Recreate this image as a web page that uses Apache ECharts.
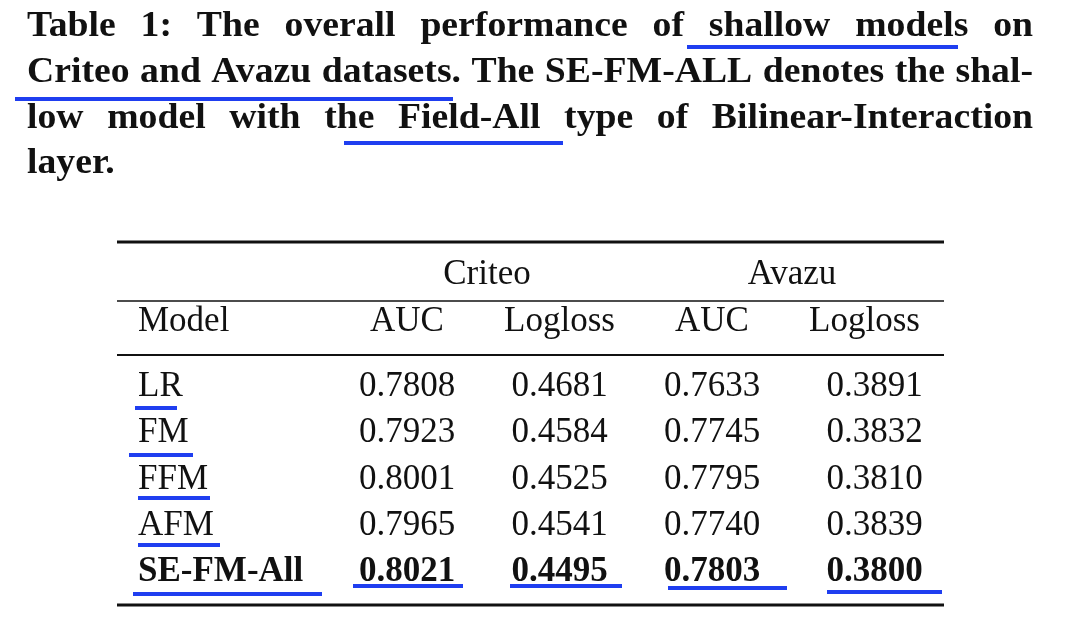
<!DOCTYPE html>
<html>
<head>
<meta charset="utf-8">
<style>
  html, body { margin: 0; padding: 0; background: #fff; }
  #main { width: 1080px; height: 626px; }
</style>
<script src="https://cdn.jsdelivr.net/npm/echarts@6/dist/echarts.min.js"></script>
</head>
<body>
<div id="main"></div>
<script>
  // table data
  const captionLines = [
    'Table 1: The overall performance of shallow models on',
    'Criteo and Avazu datasets. The SE-FM-ALL denotes the shal-',
    'low model with the Field-All type of Bilinear-Interaction',
    'layer.'
  ]
  const datasets = ['Criteo', 'Avazu']
  const metrics = ['AUC', 'Logloss']
  const models = ['LR', 'FM', 'FFM', 'AFM', 'SE-FM-All']
  const criteoAUC = [0.7808, 0.7923, 0.8001, 0.7965, 0.8021]
  const criteoLogloss = [0.4681, 0.4584, 0.4525, 0.4541, 0.4495]
  const avazuAUC = [0.7633, 0.7745, 0.7795, 0.7740, 0.7803]
  const avazuLogloss = [0.3891, 0.3832, 0.3810, 0.3839, 0.3800]

  const SERIF = '"Liberation Serif", "DejaVu Serif", serif'
  const BLUE = '#1f3ef0'
  const INK = '#111'
  const TFS = 35

  const columns = [criteoAUC, criteoLogloss, avazuAUC, avazuLogloss]
  const colNames = []
  datasets.forEach(d => metrics.forEach(m => colNames.push(d + ' ' + m)))

  // best value per column: max for AUC, min for Logloss
  const bestIdx = columns.map((vals, c) => {
    const isAUC = colNames[c].indexOf('AUC') >= 0
    let b = 0
    vals.forEach((v, i) => { if (isAUC ? v > vals[b] : v < vals[b]) b = i })
    return b
  })
  const bestRow = bestIdx[0]

  const chart = echarts.init(document.getElementById('main'))

  // caption, justified word by word (stretched a little, the original face is wider)
  const ctx = document.createElement('canvas').getContext('2d')
  const capFont = 35
  ctx.font = 'bold ' + capFont + 'px ' + SERIF
  const capLeft = 27
  const capRight = 1033
  const capW = capRight - capLeft
  const capY = [27, 73, 119, 164]
  const lineWords = captionLines.map(l => l.split(' '))
  const lineWidths = lineWords.map(ws => ws.map(w => ctx.measureText(w).width))
  let sx = 1.3
  lineWords.forEach((ws, li) => {
    if (li === lineWords.length - 1) return
    const total = lineWidths[li].reduce((a, b) => a + b, 0)
    const s = (capW - 0.3 * capFont * (ws.length - 1)) / total
    if (s < sx) sx = s
  })
  const graphics = []
  lineWords.forEach((words, li) => {
    const widths = lineWidths[li].map(w => w * sx)
    const total = widths.reduce((a, b) => a + b, 0)
    const last = li === lineWords.length - 1
    const gap = last ? 0.3 * capFont : (capW - total) / (words.length - 1)
    let x = capLeft
    words.forEach((w, wi) => {
      graphics.push({
        type: 'text',
        x: x,
        y: capY[li],
        scaleX: sx,
        style: {
          text: w, x: 0, y: 0, fill: INK,
          fontSize: capFont, fontWeight: 'bold', fontFamily: SERIF,
          align: 'left', textAlign: 'left', verticalAlign: 'middle', textVerticalAlign: 'middle'
        }
      })
      x += widths[wi] + gap
    })
  })

  // hand-drawn blue underlines
  const underlines = [
    [687, 958, 47], [15, 453, 99], [344, 563, 143],
    [135, 177, 408], [129, 193, 455], [138, 210, 498], [138, 220, 545], [133, 322, 594],
    [353, 463, 586], [510, 622, 586], [668, 787, 588], [827, 942, 592]
  ]
  underlines.forEach(u => {
    graphics.push({
      type: 'line',
      shape: { x1: u[0], y1: u[2], x2: u[1], y2: u[2] },
      style: { stroke: BLUE, lineWidth: 4 }
    })
  })

  // booktabs rules
  const rules = [[242, 3], [301, 1.5], [355, 2], [605, 3]]
  rules.forEach(r => {
    graphics.push({
      type: 'line',
      shape: { x1: 117, y1: r[0], x2: 944, y2: r[0] },
      style: { stroke: INK, lineWidth: r[1] }
    })
  })

  // group headers and Model header
  const groupX = [487, 792]
  datasets.forEach((d, i) => {
    graphics.push({
      type: 'text',
      style: {
        text: d, x: groupX[i], y: 275, fill: INK, fontSize: TFS, fontFamily: SERIF,
        align: 'center', textAlign: 'center', verticalAlign: 'middle', textVerticalAlign: 'middle'
      }
    })
  })
  graphics.push({
    type: 'text',
    style: {
      text: 'Model', x: 138, y: 322, fill: INK, fontSize: TFS, fontFamily: SERIF,
      align: 'left', textAlign: 'left', verticalAlign: 'middle', textVerticalAlign: 'middle'
    }
  })

  chart.setOption({
    animation: false,
    backgroundColor: '#fff',
    grid: { left: 330.75, right: 139.25, top: 363.9, bottom: 30.9 },
    xAxis: {
      type: 'category',
      position: 'top',
      data: colNames,
      axisLine: { show: false },
      axisTick: { show: false },
      splitLine: { show: false },
      axisLabel: {
        margin: 42,
        verticalAlign: 'middle',
        fontSize: TFS,
        fontFamily: SERIF,
        color: INK,
        formatter: function (v) { return v.split(' ')[1] }
      }
    },
    yAxis: {
      type: 'category',
      inverse: true,
      data: models,
      axisLine: { show: false },
      axisTick: { show: false },
      splitLine: { show: false },
      axisLabel: {
        align: 'left',
        margin: 192.75,
        fontSize: TFS,
        fontFamily: SERIF,
        color: INK,
        formatter: function (v, i) { return i === bestRow ? '{b|' + v + '}' : v },
        rich: { b: { fontSize: TFS, fontFamily: SERIF, fontWeight: 'bold', color: INK } }
      }
    },
    series: columns.map((vals, c) => ({
      type: 'scatter',
      name: colNames[c],
      symbolSize: 0,
      itemStyle: { color: '#fff', opacity: 1 },
      label: {
        show: true,
        position: 'inside',
        offset: c === columns.length - 1 ? [10, 0] : [0, 0],
        fontSize: TFS,
        fontFamily: SERIF,
        color: INK,
        opacity: 1,
        formatter: function (p) { return vals[p.dataIndex].toFixed(4) }
      },
      data: vals.map((v, i) => ({
        value: [c, i],
        label: { fontWeight: i === bestIdx[c] ? 'bold' : 'normal' }
      }))
    })),
    graphic: graphics
  })
</script>
</body>
</html>
